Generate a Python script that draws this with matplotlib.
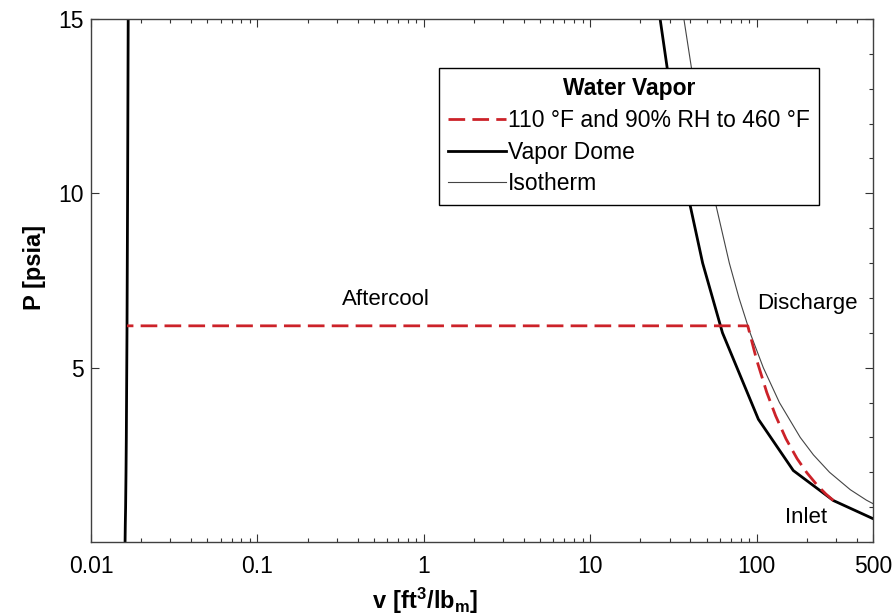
#!/usr/bin/env python

# P-v diagram of water vapor: vapor dome, 460 F isotherm and the compression path

import matplotlib
matplotlib.use('Agg')
from matplotlib import pyplot as plt
from matplotlib.ticker import FixedLocator, LogLocator, MultipleLocator, NullFormatter

plt.rcParams['font.family'] = ['Liberation Sans', 'DejaVu Sans']
plt.rcParams['mathtext.fontset'] = 'custom'
plt.rcParams['mathtext.rm'] = 'Liberation Sans'
plt.rcParams['mathtext.bf'] = 'Liberation Sans:bold'

# saturated liquid line (left side of the dome)
liq_v = [0.01602, 0.01607, 0.01614, 0.01623, 0.01630, 0.01645, 0.01659, 0.01672, 0.01680]
liq_p = [0.0, 0.5, 1.0, 2.0, 3.0, 6.0, 10.0, 14.696, 17.19]

# saturated vapor line (right side of the dome)
vap_v = [23.15, 26.29, 32.40, 38.42, 47.35, 62.3, 102.4, 166.0, 289.0, 500.0, 641.0]
vap_p = [17.19, 15.0, 12.0, 10.0, 8.0, 6.0, 3.52, 2.05, 1.19, 0.67, 0.51]

# 460 F isotherm
iso_v = [34.25, 36.53, 45.67, 54.8, 68.5, 78.3, 91.3, 109.6, 137.0, 182.7, 219.2, 274.0, 365.3, 456.7, 548.0]
iso_p = [16.0, 15.0, 12.0, 10.0, 8.0, 7.0, 6.0, 5.0, 4.0, 3.0, 2.5, 2.0, 1.5, 1.2, 1.0]

# process path: inlet -> discharge (compression), then aftercool at constant pressure
path_v = [289.0, 260.0, 230.0, 200.0, 175.0, 150.0, 130.0, 115.0, 100.0, 88.4, 0.01645]
path_p = [1.19, 1.38, 1.64, 1.99, 2.39, 2.96, 3.62, 4.29, 5.22, 6.2, 6.2]

xticks = [0.01, 0.1, 1, 10, 100, 500]
xticklabels = ['0.01', '0.1', '1', '10', '100', '500']
yticks = [5, 10, 15]

red = '#cc2229'

# create figure
fig = plt.figure(figsize=(8.94, 6.16), dpi=100)
ax = fig.add_axes([0.1018, 0.1201, 0.8747, 0.8491])

ax.plot(liq_v, liq_p, color='black', lw=2)
ax.plot(vap_v, vap_p, color='black', lw=2, label='Vapor Dome')
ax.plot(iso_v, iso_p, color='#444444', lw=0.8, label='Isotherm')
ax.plot(path_v, path_p, color=red, lw=2, dashes=(6, 2.6),
        label='110 \u00b0F and 90% RH to 460 \u00b0F')

ax.set_xscale('log')
ax.set_xlim(0.01, 500)
ax.set_ylim(0, 15)

# ticks
ax.xaxis.set_major_locator(FixedLocator(xticks))
ax.set_xticklabels(xticklabels)
ax.xaxis.set_minor_locator(LogLocator(base=10, subs=range(2, 10)))
ax.xaxis.set_minor_formatter(NullFormatter())
ax.yaxis.set_major_locator(FixedLocator(yticks))
ax.yaxis.set_minor_locator(MultipleLocator(1))
ax.tick_params(which='major', direction='in', length=6, width=0.8,
               top=True, right=True, labelsize=16.5, colors='#333333', labelcolor='black')
ax.tick_params(axis='x', which='major', pad=9)
ax.tick_params(axis='y', which='major', pad=5)
ax.tick_params(which='minor', direction='in', length=3, width=0.8, top=True, colors='#333333')
ax.tick_params(axis='y', which='minor', left=False, right=True)
for s in ax.spines.values():
    s.set_color('#404040')
    s.set_linewidth(1)

# axis labels
ax.set_xlabel(r'$\mathbf{v\ [ft^3/lb_m]}$', fontsize=17)
ax.xaxis.set_label_coords(0.427, -0.084)
ax.set_ylabel('P [psia]', fontsize=17, fontweight='bold')
ax.yaxis.set_label_coords(-0.058, 0.525)

# state labels
ax.text(0.59, 6.95, 'Aftercool', fontsize=16, ha='center', va='center')
ax.text(201, 6.85, 'Discharge', fontsize=16, ha='center', va='center')
ax.text(198, 0.69, 'Inlet', fontsize=16, ha='center', va='center')

# legend
handles, labels = ax.get_legend_handles_labels()
order = [2, 0, 1]
leg = ax.legend([handles[i] for i in order], [labels[i] for i in order],
                loc='upper right', bbox_to_anchor=(0.931, 0.906),
                title='Water Vapor', title_fontproperties={'weight': 'bold', 'size': 16.5},
                fontsize=16.5, handlelength=2.5, handletextpad=0.1, labelspacing=0.38,
                borderpad=0.4, fancybox=False, framealpha=1, edgecolor='black',
                borderaxespad=0)
leg.get_frame().set_linewidth(1)

plt.savefig('out.png', dpi=100)
